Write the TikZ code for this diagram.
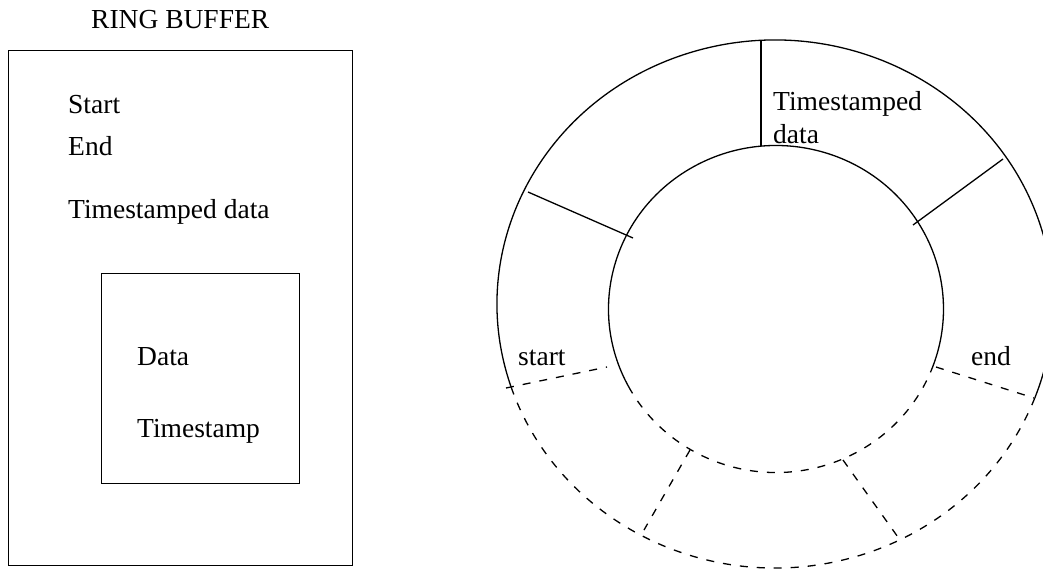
\documentclass[tikz,border=0pt]{standalone}
\usepackage{fontspec}
\setmainfont{Liberation Serif}
\newfontfamily\labelfont{Liberation Serif}
\begin{document}
\begin{tikzpicture}[x=1pt,y=-1pt,
  label/.style={anchor=base west,inner sep=0pt,font=\labelfont\fontsize{27.5}{33}\selectfont},
  frame/.style={draw,line width=0.9pt},
  ringline/.style={line width=1.3pt},
  ringdash/.style={line width=1.3pt,dash pattern=on 8pt off 9pt}]
\useasboundingbox (0,0) rectangle (1043,570);

% ---- record layout ----
\node[label] (title) at (91,28) {RING BUFFER};
\draw[frame] (8,50) rectangle (352,565);
\node[label] (start) at (68,113) {Start};
\node[label] (end) at (68,155) {End};
\node[label] (tsdata) at (68,218) {Timestamped data};
\draw[frame] (101,273) rectangle (299,483);
\node[label] (data) at (137,365) {Data};
\node[label] (stamp) at (137,437) {Timestamp};

% ---- ring of slots ----
\coordinate (oc) at (775,304);   % outer rim centre
\coordinate (ic) at (776,309);   % inner rim centre
% filled part of the rim
\draw[ringline] (oc) ++(161.5:278 and 264)
  arc[start angle=161.5,end angle=380.8,x radius=278,y radius=264];
\draw[ringline] (ic) ++(151.5:167.5 and 163.5)
  arc[start angle=151.5,end angle=380,x radius=167.5,y radius=163.5];
% free part of the rim
\draw[ringdash] (oc) ++(20.8:278 and 264)
  arc[start angle=20.8,end angle=161.5,x radius=278,y radius=264];
\draw[ringdash] (ic) ++(20:167.5 and 163.5)
  arc[start angle=20,end angle=151.5,x radius=167.5,y radius=163.5];

% slot boundaries
\coordinate (s1o) at (761,40);   \coordinate (s1i) at (761,146);
\coordinate (s2o) at (528,192);  \coordinate (s2i) at (633,238);
\coordinate (s3o) at (1003,159); \coordinate (s3i) at (913,225);
\draw[ringline] (s1o) -- (s1i);
\draw[ringline] (s2o) -- (s2i);
\draw[ringline] (s3o) -- (s3i);
\coordinate (d1o) at (506,388);  \coordinate (d1i) at (607,367);
\coordinate (d2o) at (1034,398); \coordinate (d2i) at (936,367);
\coordinate (d3o) at (644,530);  \coordinate (d3i) at (690,450);
\coordinate (d4o) at (900,540);  \coordinate (d4i) at (843,460);
\draw[ringdash] (d1o) -- (d1i);
\draw[ringdash] (d2i) -- (d2o);
\draw[ringdash] (d3i) -- (d3o);
\draw[ringdash] (d4i) -- (d4o);

\node[label] (slot) at (773,110) {Timestamped};
\node[label] (slot2) at (773,143) {data};
\node[label] (rstart) at (518,365) {start};
\node[label] (rend) at (971,365) {end};
\end{tikzpicture}
\end{document}
